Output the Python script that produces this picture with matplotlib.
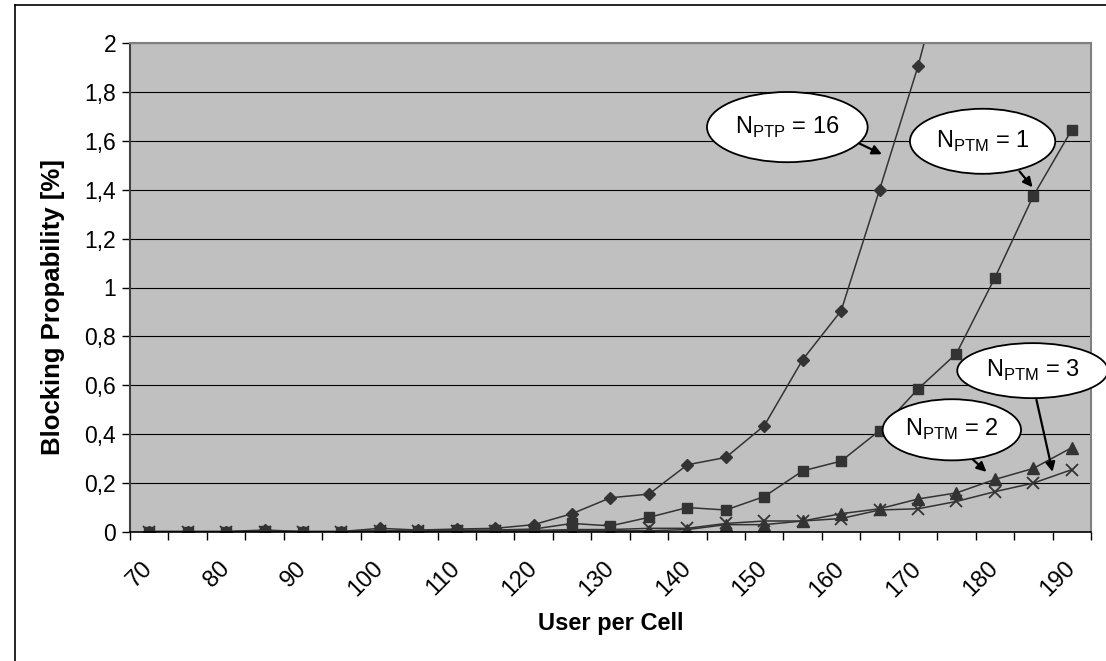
import matplotlib
matplotlib.use("Agg")
import matplotlib.pyplot as plt
import matplotlib.transforms as mtransforms
import numpy as np
from matplotlib.patches import Ellipse
from matplotlib.lines import Line2D

plt.rcParams["font.family"] = ["Liberation Sans", "DejaVu Sans"]
plt.rcParams["mathtext.fontset"] = "custom"
plt.rcParams["mathtext.rm"] = "Liberation Sans"

users = list(range(70, 195, 5))
nan = np.nan
ptp16 = [0.002, 0.002, 0.002, 0.008, 0.002, 0.002, 0.015, 0.008, 0.012, 0.015,
         0.03, 0.075, 0.14, 0.155, 0.275, 0.305, 0.435, 0.705, 0.905, 1.40,
         1.905, 2.5, nan, nan, nan]
ptm1 = [0.002, 0.002, 0.002, 0.004, 0.002, 0.002, 0.005, 0.005, 0.008, 0.008,
        0.012, 0.035, 0.025, 0.06, 0.1, 0.09, 0.145, 0.25, 0.29, 0.415,
        0.585, 0.73, 1.04, 1.375, 1.645]
ptm2 = [0.0, 0.0, 0.0, 0.002, 0.0, 0.0, 0.005, 0.003, 0.005, 0.004,
        0.005, 0.005, 0.005, 0.005, 0.01, 0.03, 0.03, 0.045, 0.075, 0.095,
        0.135, 0.16, 0.215, 0.26, 0.345]
ptm3 = [0.0, 0.0, 0.0, 0.002, 0.0, 0.0, 0.003, 0.003, 0.004, 0.004,
        0.006, 0.01, 0.01, 0.015, 0.015, 0.035, 0.045, 0.045, 0.055, 0.09,
        0.095, 0.125, 0.165, 0.2, 0.255]
ytick_vals = [0, 0.2, 0.4, 0.6, 0.8, 1.0, 1.2, 1.4, 1.6, 1.8, 2.0]
ytick_labels = ["0", "0,2", "0,4", "0,6", "0,8", "1", "1,2", "1,4", "1,6", "1,8", "2"]
xtick_vals = list(range(70, 200, 10))

dark = "#333333"

fig = plt.figure(figsize=(11.06, 6.61), dpi=100)
ax = fig.add_axes([130 / 1106, 1 - 532 / 661, 961 / 1106, 489 / 661])
ax.set_facecolor("#c0c0c0")

ax.plot(users, ptp16, color=dark, lw=1.1, marker="D", ms=6.5, mec=dark, mfc=dark)
ax.plot(users, ptm1, color=dark, lw=1.1, marker="s", ms=7.5, mec=dark, mfc=dark)
ax.plot(users, ptm2, color=dark, lw=1.1, marker="^", ms=8.5, mec=dark, mfc=dark)
ax.plot(users, ptm3, color=dark, lw=1.1, marker="x", ms=8.5, mew=1.3, mec=dark)

ax.set_xlim(67.5, 192.5)
ax.set_ylim(0, 2)
ax.set_yticks(ytick_vals)
ax.set_yticklabels(ytick_labels, fontsize=16.5)
ax.yaxis.grid(True, color="black", lw=0.8)
ax.set_axisbelow(True)

ax.set_xticks(xtick_vals)
ax.set_xticklabels([str(v) for v in xtick_vals], fontsize=17, rotation=45,
                   ha="right", va="center", rotation_mode="anchor")
shift = mtransforms.ScaledTranslation(-8 / 100, 0, fig.dpi_scale_trans)
for lab in ax.get_xticklabels():
    lab.set_transform(lab.get_transform() + shift)
ax.set_xticks(np.arange(67.5, 193, 5), minor=True)
ax.tick_params(axis="x", which="major", length=0, pad=24)
ax.tick_params(axis="x", which="minor", length=6, color="black", width=1)
ax.tick_params(axis="y", length=6, color="black", width=1, pad=4)

for side in ("top", "right"):
    ax.spines[side].set_color("#808080")
    ax.spines[side].set_linewidth(1.5)
ax.spines["left"].set_color("#404040")
ax.spines["bottom"].set_color("black")
ax.spines["left"].set_linewidth(1.5)
ax.spines["bottom"].set_linewidth(1.2)

ax.set_xlabel("User per Cell", fontsize=17, fontweight="bold", labelpad=8)
ax.set_ylabel("Blocking Propability [%]", fontsize=18.5, fontweight="bold")
ax.yaxis.set_label_coords(-0.068, 0.46)

# callouts: text, ellipse centre, width, height, arrow start, arrow end
callouts = [
    (r"N$_{\rm PTP}$ = 16", (153.0, 1.656), 20.9, 0.287, (162.3, 1.59), (165.3, 1.545)),
    (r"N$_{\rm PTM}$ = 1", (178.4, 1.598), 18.9, 0.266, (183.2, 1.475), (184.9, 1.41)),
    (r"N$_{\rm PTM}$ = 3", (184.9, 0.66), 19.6, 0.225, (185.4, 0.541), (187.5, 0.246)),
    (r"N$_{\rm PTM}$ = 2", (174.4, 0.418), 18.0, 0.25, (176.9, 0.303), (178.9, 0.246)),
]
for txt, c, w, h, a0, a1 in callouts:
    ax.annotate("", xy=a1, xytext=a0,
                arrowprops=dict(arrowstyle="-|>", color="black", lw=1.6,
                                mutation_scale=14, shrinkA=0, shrinkB=0),
                zorder=5)
    e = Ellipse(c, w, h, facecolor="white", edgecolor="black", lw=1.3,
                zorder=6, clip_on=False)
    ax.add_patch(e)
    ax.text(c[0], c[1], txt, fontsize=17, ha="center", va="center", zorder=7)

# outer chart border (left and top)
fig.add_artist(Line2D([15 / 1106, 15 / 1106], [0, 1 - 5 / 661], color="black", lw=1.2))
fig.add_artist(Line2D([15 / 1106, 1], [1 - 5 / 661, 1 - 5 / 661], color="black", lw=1.2))

fig.savefig("out.png", dpi=100)
